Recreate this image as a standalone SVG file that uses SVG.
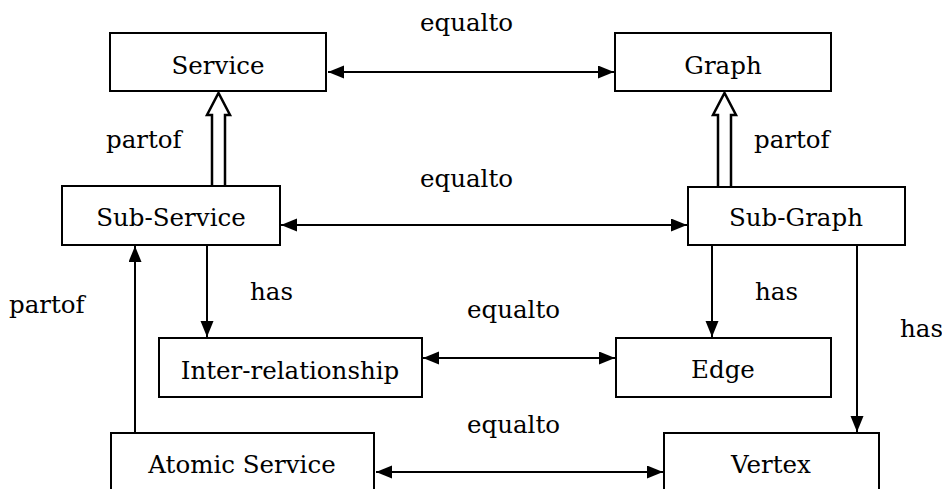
<svg xmlns="http://www.w3.org/2000/svg" width="942" height="489" viewBox="0 0 942 489">
<style>
.box{fill:#fff;stroke:#000;stroke-width:2}
.lbl{font-family:"DejaVu Serif","Liberation Serif",serif;font-size:24.5px;fill:#000}
.ctr{text-anchor:middle}
.ln{stroke:#000;stroke-width:2;fill:none}
.hol{fill:#fff;stroke:#000;stroke-width:2.5;stroke-linejoin:miter}
</style>
<defs>
<marker id="ah" markerUnits="userSpaceOnUse" markerWidth="17" markerHeight="14" refX="16" refY="6.5" orient="auto-start-reverse">
<path d="M0,0 L16,6.5 L0,13 z" fill="#000"/>
</marker>
</defs>
<rect width="942" height="489" fill="#fff"/>
<g id="connectors">
<line class="ln" x1="328" y1="72" x2="614" y2="72" marker-start="url(#ah)" marker-end="url(#ah)"/>
<line class="ln" x1="281" y1="225" x2="687" y2="225" marker-start="url(#ah)" marker-end="url(#ah)"/>
<line class="ln" x1="423" y1="358" x2="615" y2="358" marker-start="url(#ah)" marker-end="url(#ah)"/>
<line class="ln" x1="376" y1="472" x2="663" y2="472" marker-start="url(#ah)" marker-end="url(#ah)"/>
<line class="ln" x1="207" y1="245" x2="207" y2="337" marker-end="url(#ah)"/>
<line class="ln" x1="712" y1="245" x2="712" y2="337" marker-end="url(#ah)"/>
<line class="ln" x1="857" y1="245" x2="857" y2="432" marker-end="url(#ah)"/>
<line class="ln" x1="135" y1="433" x2="135" y2="246" marker-end="url(#ah)"/>
<path class="hol" d="M212,186 L212,115 L207,115 L218.5,93 L230,115 L225,115 L225,186"/>
<path class="hol" d="M718,188 L718,115 L713,115 L724.5,93 L736,115 L731,115 L731,188"/>
<text class="lbl" x="420" y="31">equalto</text>
<text class="lbl" x="106" y="148">partof</text>
<text class="lbl" x="754" y="148">partof</text>
<text class="lbl" x="420" y="187">equalto</text>
<text class="lbl" x="250" y="300">has</text>
<text class="lbl" x="755" y="300">has</text>
<text class="lbl" x="9" y="313">partof</text>
<text class="lbl" x="467" y="318">equalto</text>
<text class="lbl" x="900" y="337">has</text>
<text class="lbl" x="467" y="433">equalto</text>
</g>
<g id="service"><rect class="box" x="110" y="33" width="216" height="58"/><text class="lbl ctr" x="218" y="74">Service</text></g>
<g id="graph"><rect class="box" x="615" y="33" width="216" height="58"/><text class="lbl ctr" x="723" y="74">Graph</text></g>
<g id="sub-service"><rect class="box" x="62" y="186" width="218" height="59"/><text class="lbl ctr" x="171" y="226">Sub-Service</text></g>
<g id="sub-graph"><rect class="box" x="688" y="187" width="217" height="58"/><text class="lbl ctr" x="796" y="226">Sub-Graph</text></g>
<g id="inter-relationship"><rect class="box" x="159" y="338" width="263" height="59"/><text class="lbl ctr" x="290" y="379">Inter-relationship</text></g>
<g id="edge"><rect class="box" x="616" y="338" width="215" height="59"/><text class="lbl ctr" x="723" y="378">Edge</text></g>
<g id="atomic-service"><rect class="box" x="111" y="433" width="263" height="80"/><text class="lbl ctr" x="242" y="473">Atomic Service</text></g>
<g id="vertex"><rect class="box" x="664" y="433" width="215" height="80"/><text class="lbl ctr" x="771" y="473">Vertex</text></g>
</svg>
